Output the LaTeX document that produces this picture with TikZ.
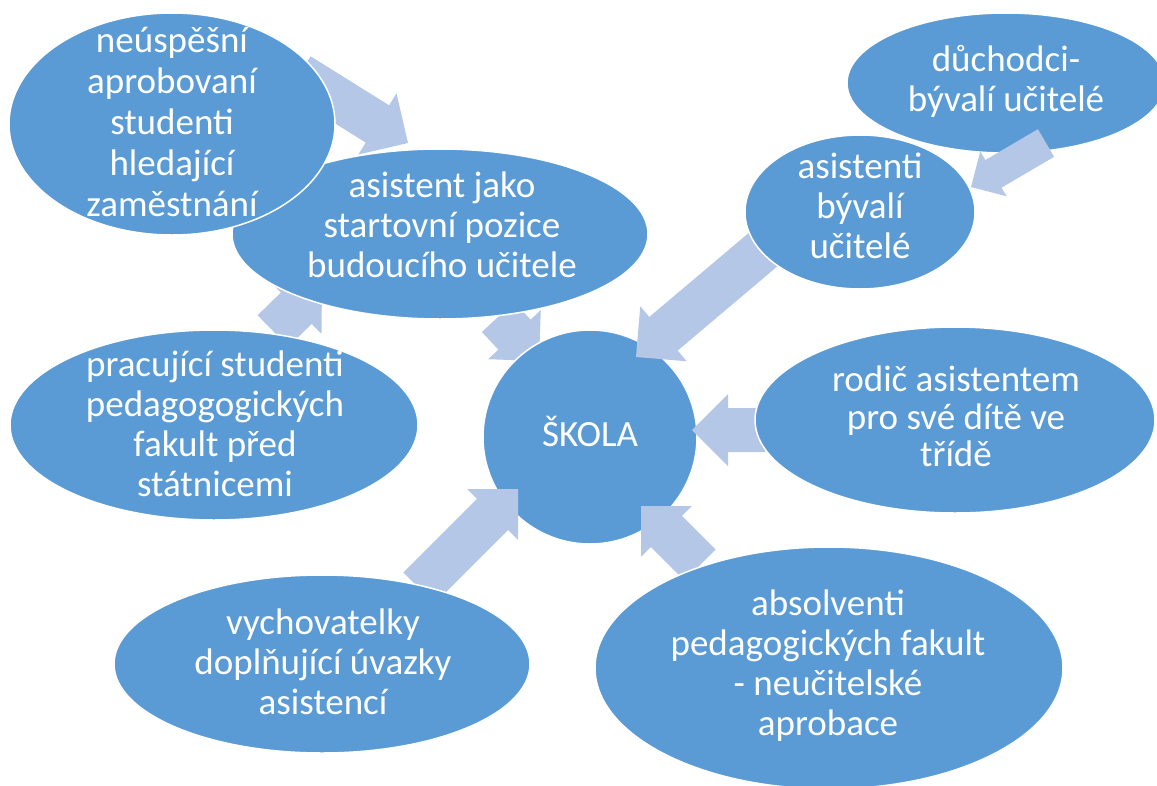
\documentclass[tikz,border=0pt]{standalone}
\usepackage{fontspec}
\setmainfont{Carlito}
\usetikzlibrary{calc,shapes.geometric}
\definecolor{ellc}{HTML}{5B9BD5}
\definecolor{arrc}{HTML}{B4C7E7}
\tikzset{
  ell/.style={ellipse,fill=ellc,draw=white,line width=1.5pt,inner sep=0pt},
  txt/.style={text=white,align=center,inner sep=0pt,font=\fontsize{37}{40}\selectfont,
    execute at begin node={\strut},execute at end node={\strut}},
  arrowc/.style={fill=arrc}
}
\newcommand\blockarr[4]{%
  \fill[arrowc] let \p1=($(#2)!#4!(#1)$) in
   ($(#1)!#3!90:(#2)$) -- ($(\p1)!#3!90:(#2)$) -- ($(\p1)!#4!90:(#2)$) -- (#2)
   -- ($(\p1)!#4!-90:(#2)$) -- ($(\p1)!#3!-90:(#2)$) -- ($(#1)!#3!-90:(#2)$) -- cycle;}
\begin{document}
\begin{tikzpicture}[x=1pt,y=-1pt]
\useasboundingbox (0,0) rectangle (1157,785);
\clip (0,0) rectangle (1157,785);
% arrow coordinates
\coordinate (a1s) at (299,75);   \coordinate (a1e) at (408,143);
\coordinate (a2s) at (273,331);  \coordinate (a2e) at (322,283);
\coordinate (a3s) at (498,317);  \coordinate (a3e) at (539,361);
\coordinate (a4s) at (1046,143); \coordinate (a4e) at (971,187);
\coordinate (a5s) at (765,248);  \coordinate (a5e) at (636,357);
\coordinate (a6s) at (765,430);  \coordinate (a6e) at (692,430);
\coordinate (a7s) at (419,588);  \coordinate (a7e) at (518,489);
\coordinate (a8s) at (700,565);  \coordinate (a8e) at (641,506);
% back layer
\blockarr{a3s}{a3e}{22pt}{36pt}
\node[ell,minimum width=214,minimum height=214] (eS) at (590,437) {};
\node[ell,minimum width=318,minimum height=140] (eD) at (1006,83) {};
\blockarr{a1s}{a1e}{22pt}{36pt}
\blockarr{a2s}{a2e}{22pt}{36pt}
\blockarr{a4s}{a4e}{16pt}{26pt}
\blockarr{a5s}{a5e}{22pt}{36pt}
\blockarr{a6s}{a6e}{22pt}{36pt}
\blockarr{a7s}{a7e}{22pt}{36pt}
\blockarr{a8s}{a8e}{22pt}{36pt}
% ellipses
\node[ell,minimum width=416,minimum height=170] (eA) at (440,234) {};
\node[ell,minimum width=326,minimum height=222] (eN) at (172,124) {};
\node[ell,minimum width=408,minimum height=190] (eP) at (214,425) {};
\node[ell,minimum width=230,minimum height=154] (eB) at (860,212) {};
\node[ell,minimum width=400,minimum height=186] (eR) at (955,420) {};
\node[ell,minimum width=416,minimum height=178] (eV) at (322,664) {};
\node[ell,minimum width=468,minimum height=242] (eF) at (829,668) {};
% texts
\node[txt,font=\fontsize{37}{41}\selectfont] (tN) at (172,128) {neúspěšní\\aprobovaní\\studenti\\hledající\\zaměstnání};
\node[txt] (tA) at (442,231) {asistent jako\\startovní pozice\\budoucího učitele};
\node[txt] (tP) at (215,430) {pracující studenti\\pedagogogických\\fakult před\\státnicemi};
\node[txt] (tS) at (590,437) {ŠKOLA};
\node[txt] (tD) at (1006,84) {důchodci-\\bývalí učitelé};
\node[txt] (tB) at (860,212) {asistenti\\bývalí\\učitelé};
\node[txt,font=\fontsize{37}{37.5}\selectfont] (tR) at (956,422) {rodič asistentem\\pro své dítě ve\\třídě};
\node[txt] (tV) at (323,668) {vychovatelky\\doplňující úvazky\\asistencí};
\node[txt] (tF) at (828,669) {absolventi\\pedagogických fakult\\- neučitelské\\aprobace};
\end{tikzpicture}
\end{document}
